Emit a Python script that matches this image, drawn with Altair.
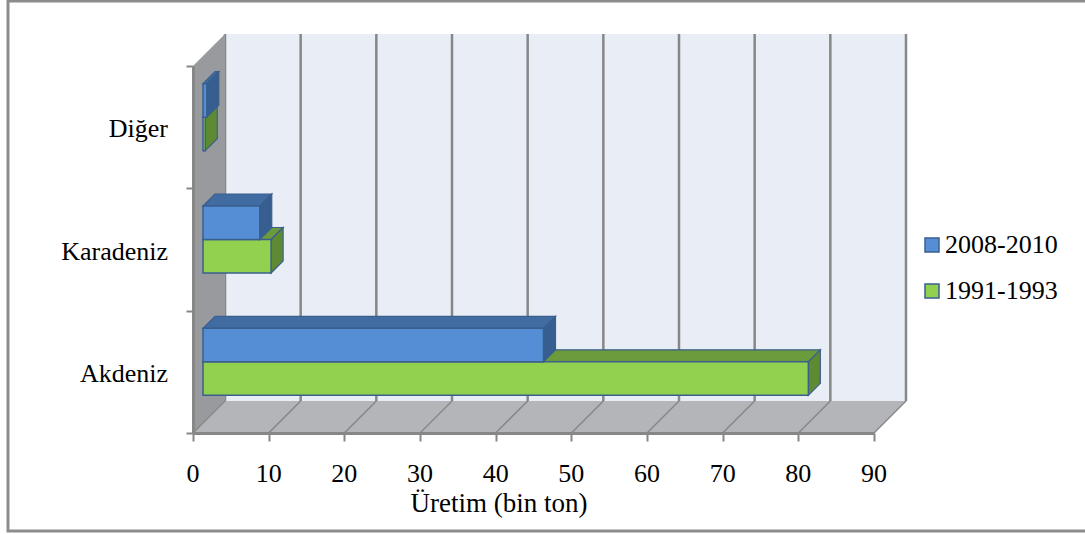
import altair as alt
import pandas as pd

# ---- data -----------------------------------------------------------------
categories = ["Akdeniz", "Karadeniz", "Diğer"]          # bottom to top
series = ["2008-2010", "1991-1993"]
uretim_2008_2010 = [45.0, 7.5, 0.5]                     # bin ton
uretim_1991_1993 = [80.0, 9.0, 0.3]                     # bin ton
x_ticks = list(range(0, 91, 10))
x_title = "Üretim (bin ton)"

# ---- geometry of the pseudo 3-D box ----------------------------------------
W, H = 681, 367
X_MAX = 90
N_CAT = len(categories)
PX_X = X_MAX / W          # data units per pixel, horizontal
PX_Y = N_CAT / H          # data units per pixel, vertical
DEPTH = 32                # receding depth of the box, in pixels


def sx(d):
    return d * DEPTH * PX_X


def sy(d):
    return d * DEPTH * PX_Y


BAR_FRONT, BAR_BACK = 10 / 32, 22 / 32
BAR_HALF = 33.5 * PX_Y

FONT = "Liberation Serif"
FS = 26
GRID = "#878787"
EDGE = "#3A5F8E"
WALL = "#E9EDF6"
SIDE = "#989A9E"
FLOOR = "#B3B5B9"
BLUE = {"front": "#558ED5", "top": "#416CA2", "right": "#365E90"}
GREEN = {"front": "#92D050", "top": "#6B9B3C", "right": "#5E8A33"}
PALETTE = {series[0]: BLUE, series[1]: GREEN}

xscale = alt.Scale(domain=[0, X_MAX], nice=False, zero=False)
yscale = alt.Scale(domain=[0, N_CAT], nice=False, zero=False)

x_axis = alt.Axis(values=x_ticks, labels=False, title=None, grid=False,
                  domainColor=GRID, domainWidth=3, tickColor=GRID, tickWidth=2,
                  tickSize=8, zindex=1)
y_axis = alt.Axis(values=list(range(N_CAT + 1)), labels=False, title=None,
                  grid=False, domainColor=GRID, domainWidth=3, tickColor=GRID,
                  tickWidth=2, tickSize=7, zindex=1)


def X(f):
    return alt.X(f, type="quantitative", scale=xscale, axis=x_axis)


def Y(f):
    return alt.Y(f, type="quantitative", scale=yscale, axis=y_axis)


def text(size=FS, **kw):
    return dict(font=FONT, fontSize=size, color="black", **kw)


# ---- bar faces ------------------------------------------------------------
front_rows, top_rows, right_rows = [], [], []
for s_name, vals, upper in ((series[0], uretim_2008_2010, True),
                            (series[1], uretim_1991_1993, False)):
    for i, (cat, v) in enumerate(zip(categories, vals)):
        c = i + 0.5
        lo, hi = (c, c + BAR_HALF) if upper else (c - BAR_HALF, c)
        bid = f"{s_name}|{cat}"
        front_rows.append(dict(series=s_name, cat=cat, value=v,
                               x=sx(BAR_FRONT), x2=v + sx(BAR_FRONT),
                               y=lo + sy(BAR_FRONT), y2=hi + sy(BAR_FRONT)))
        for d in (BAR_FRONT, BAR_BACK):
            top_rows.append(dict(series=s_name, id=bid, y=hi + sy(d),
                                 x=sx(d), x2=v + sx(d)))
            right_rows.append(dict(series=s_name, id=bid, x=v + sx(d),
                                   y=lo + sy(d), y2=hi + sy(d)))

front_df = pd.DataFrame(front_rows)
top_df = pd.DataFrame(top_rows)
right_df = pd.DataFrame(right_rows)

# ---- box walls ------------------------------------------------------------
back_df = pd.DataFrame([dict(x=sx(1), x2=X_MAX + sx(1), y=sy(1), y2=N_CAT + sy(1))])
back_grid_df = pd.DataFrame([dict(x=t + sx(1), y=sy(1), y2=N_CAT + sy(1)) for t in x_ticks])
side_df = pd.DataFrame([dict(x=sx(d), y=sy(d), y2=N_CAT + sy(d)) for d in (0, 1)])
floor_df = pd.DataFrame([dict(y=sy(d), x=sx(d), x2=X_MAX + sx(d)) for d in (0, 1)])
floor_lines_df = pd.DataFrame([dict(t=t, x=t + sx(d), y=sy(d))
                               for t in x_ticks for d in (0, 1)])
cat_df = pd.DataFrame(dict(cat=categories, yc=[i + 0.5 for i in range(N_CAT)]))
tick_df = pd.DataFrame(dict(t=x_ticks))

back = alt.Chart(back_df).mark_rect(color=WALL).encode(
    x=X("x"), x2="x2", y=Y("y"), y2="y2")
back_grid = alt.Chart(back_grid_df).mark_rule(color=GRID, strokeWidth=2.5).encode(
    x=X("x"), y=Y("y"), y2="y2")
side = alt.Chart(side_df).mark_area(orient="vertical", color=SIDE).encode(
    x=X("x"), y=Y("y"), y2="y2")
floor = alt.Chart(floor_df).mark_area(orient="horizontal", color=FLOOR).encode(
    y=Y("y"), x=X("x"), x2="x2")
floor_lines = alt.Chart(floor_lines_df).mark_line(color=GRID, strokeWidth=1.5).encode(
    x=X("x"), y=Y("y"), detail="t:N")


def bar_layers(s_name):
    pal = PALETTE[s_name]
    top = alt.Chart(top_df).transform_filter(alt.datum.series == s_name).mark_area(
        orient="horizontal", color=pal["top"], stroke=EDGE, strokeWidth=1.2).encode(
        y=Y("y"), x=X("x"), x2="x2", detail="id:N")
    right = alt.Chart(right_df).transform_filter(alt.datum.series == s_name).mark_area(
        orient="vertical", color=pal["right"], stroke=EDGE, strokeWidth=1.2).encode(
        x=X("x"), y=Y("y"), y2="y2", detail="id:N")
    front = alt.Chart(front_df).transform_filter(alt.datum.series == s_name).mark_rect(
        color=pal["front"], stroke=EDGE, strokeWidth=1.5).encode(
        x=X("x"), x2="x2", y=Y("y"), y2="y2")
    return [top, right, front]


# ---- text: category labels, tick labels, axis title ------------------------
cat_labels = alt.Chart(cat_df).mark_text(
    align="right", baseline="middle", dy=2, **text()
).encode(x=alt.value(-25), y=Y("yc"), text="cat:N")

tick_labels = alt.Chart(tick_df).mark_text(
    align="center", baseline="alphabetic", **text()
).encode(x=X("t"), y=alt.value(H + 49), text="t:Q")

title = alt.Chart(pd.DataFrame({"label": [x_title]})).mark_text(
    align="center", baseline="alphabetic", **text(size=27)
).encode(x=alt.value(306), y=alt.value(H + 79), text="label:N")

# ---- legend -------------------------------------------------------------
legend_layers = []
for row, s_name in enumerate(series):
    row_df = pd.DataFrame({"series": [s_name]})
    cy = 179 + 46 * row
    legend_layers.append(alt.Chart(row_df).mark_square(
        size=196, filled=True, color=PALETTE[s_name]["front"], stroke=EDGE,
        strokeWidth=1.5, opacity=1
    ).encode(x=alt.value(739), y=alt.value(cy)))
    legend_layers.append(alt.Chart(row_df).mark_text(
        align="left", baseline="alphabetic", **text()
    ).encode(x=alt.value(752), y=alt.value(cy + 8), text="series:N"))

border = alt.Chart(pd.DataFrame({"k": [0]})).mark_rect(
    fill="white", fillOpacity=0, stroke="#8C8C8C", strokeWidth=3
).encode(x=alt.value(-185), x2=alt.value(900), y=alt.value(-65), y2=alt.value(465))

chart = alt.layer(
    back, back_grid, side, floor, floor_lines,
    *bar_layers(series[1]), *bar_layers(series[0]),
    cat_labels, tick_labels, title, *legend_layers, border,
).properties(
    width=W, height=H,
    padding={"left": 193, "top": 66, "right": 211, "bottom": 101},
    autosize=alt.AutoSizeParams(type="none"),
).configure_view(strokeWidth=0).configure(background="white")

chart.save("out.html", embed_options={"renderer": "svg", "actions": False})
